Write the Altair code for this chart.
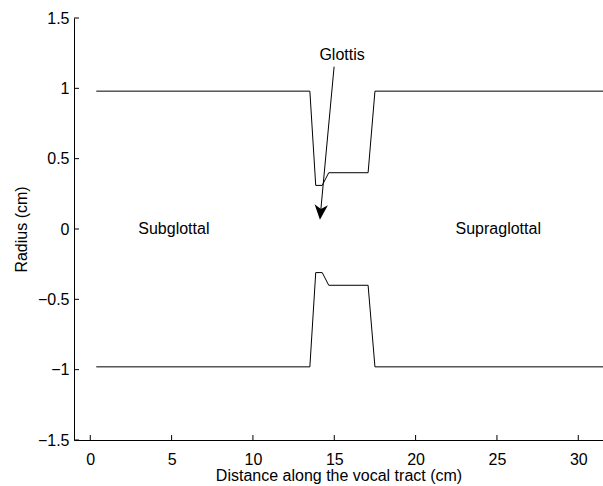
import altair as alt
import pandas as pd

# Vocal tract profile (distance in cm, radius in cm)
dist = [0.37, 13.50, 13.86, 14.26, 14.66, 17.08, 17.50, 31.52]
upper_radius = [0.98, 0.98, 0.31, 0.31, 0.40, 0.40, 0.98, 0.98]
lower_radius = [-0.98, -0.98, -0.31, -0.31, -0.40, -0.40, -0.98, -0.98]

x_ticks = [0, 5, 10, 15, 20, 25, 30]
y_ticks = [-1.5, -1, -0.5, 0, 0.5, 1, 1.5]

labels_text = ["Subglottal", "Supraglottal"]
labels_x = [5.14, 25.08]
labels_y = [0.0, 0.0]

glottis_text = "Glottis"
glottis_xy = [15.48, 1.24]
arrow_x = [14.99, 14.16]
arrow_y = [1.154, 0.119]
head_xy = [14.16, 0.119]

W, H = 529, 422
FONT = "Liberation Sans"
FS = 16
XDOM = [-1.0, 31.52]
YDOM = [-1.5, 1.5]

rows = []
for d, r in zip(dist, upper_radius):
    rows.append({"x": d, "y": r, "branch": "upper"})
for d, r in zip(dist, lower_radius):
    rows.append({"x": d, "y": r, "branch": "lower"})
df = pd.DataFrame(rows)

xs = alt.Scale(domain=XDOM, nice=False, zero=False)
ys = alt.Scale(domain=YDOM, nice=False, zero=False)

xaxis = alt.Axis(values=x_ticks, format="d", tickSize=0, grid=False,
                 labelPadding=11, titlePadding=0, domainColor="black",
                 labelFontSize=FS, titleFontSize=FS, labelColor="black",
                 titleColor="black", labelFont=FONT, titleFont=FONT,
                 titleFontWeight="normal")
yaxis = alt.Axis(values=y_ticks, format="~g", tickSize=0, grid=False,
                 labelPadding=5, titlePadding=8, domainColor="black",
                 labelFontSize=FS, titleFontSize=FS, labelColor="black",
                 titleColor="black", labelFont=FONT, titleFont=FONT,
                 titleFontWeight="normal")

lines = alt.Chart(df).mark_line(color="black", strokeWidth=1, clip=True).encode(
    x=alt.X("x:Q", scale=xs, axis=xaxis, title="Distance along the vocal tract (cm)"),
    y=alt.Y("y:Q", scale=ys, axis=yaxis, title="Radius (cm)"),
    detail="branch:N",
)

xt = alt.Chart(pd.DataFrame({"t": x_ticks})).mark_rule(color="black", strokeWidth=1).encode(
    x=alt.X("t:Q", scale=xs), y=alt.value(H), y2=alt.value(H - 5))
yt = alt.Chart(pd.DataFrame({"t": y_ticks})).mark_rule(color="black", strokeWidth=1).encode(
    y=alt.Y("t:Q", scale=ys), x=alt.value(0), x2=alt.value(5))

txt = alt.Chart(pd.DataFrame({"t": labels_text, "x": labels_x, "y": labels_y})).mark_text(
    font=FONT, fontSize=FS, color="black", align="center", baseline="middle").encode(
    x=alt.X("x:Q", scale=xs), y=alt.Y("y:Q", scale=ys), text="t:N")

gtxt = alt.Chart(pd.DataFrame({"t": [glottis_text], "x": [glottis_xy[0]], "y": [glottis_xy[1]]})).mark_text(
    font=FONT, fontSize=FS, color="black", align="center", baseline="middle").encode(
    x=alt.X("x:Q", scale=xs), y=alt.Y("y:Q", scale=ys), text="t:N")

arr = alt.Chart(pd.DataFrame({"x": arrow_x, "y": arrow_y, "o": [0, 1]})).mark_line(
    color="black", strokeWidth=1).encode(
    x=alt.X("x:Q", scale=xs), y=alt.Y("y:Q", scale=ys), order="o:Q")

head = alt.Chart(pd.DataFrame({"x": [head_xy[0]], "y": [head_xy[1]]})).mark_point(
    shape="M0,1 L-0.89,-1 L0,-0.45 L0.89,-1 Z", filled=True, color="black",
    opacity=1, size=225, angle=5, strokeWidth=0).encode(
    x=alt.X("x:Q", scale=xs), y=alt.Y("y:Q", scale=ys))

chart = alt.layer(lines, xt, yt, txt, gtxt, arr, head).properties(
    width=W, height=H,
    autosize=alt.AutoSizeParams(type="none"),
    padding={"left": 74, "top": 18, "right": 0, "bottom": 46},
    background="white",
).configure_view(stroke=None)

chart.save("out.html", embed_options={"renderer": "svg", "actions": False})
